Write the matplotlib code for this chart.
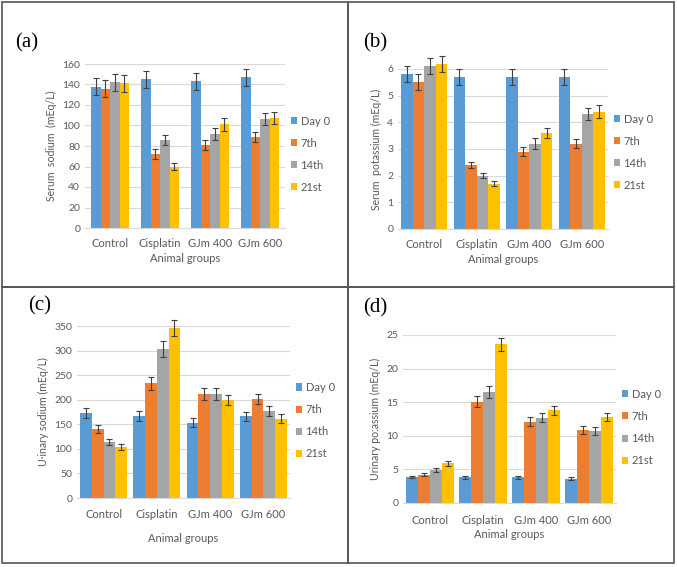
import matplotlib
matplotlib.use("Agg")
import matplotlib.pyplot as plt
from matplotlib.patches import Rectangle
import numpy as np

W, H = 677, 567

groups = ["Control", "Cisplatin", "GJm 400", "GJm 600"]
days = ["Day 0", "7th", "14th", "21st"]
colors = ["#5B9BD5", "#ED7D31", "#A5A5A5", "#FFC000"]

# rows = groups, columns = days
serum_na = [[138, 136, 142, 141], [145, 72, 86, 60], [143, 81, 92, 101], [147, 89, 106, 107]]
serum_na_err = [[8, 8, 8, 8], [8, 5, 5, 3], [8, 5, 6, 6], [8, 5, 6, 6]]

serum_k = [[5.8, 5.5, 6.1, 6.2], [5.7, 2.4, 2.0, 1.7], [5.7, 2.9, 3.2, 3.6], [5.7, 3.2, 4.3, 4.4]]
serum_k_err = [[0.3, 0.3, 0.3, 0.3], [0.3, 0.12, 0.1, 0.1], [0.3, 0.17, 0.2, 0.2], [0.3, 0.17, 0.22, 0.25]]

urine_na = [[173, 140, 114, 104], [167, 233, 303, 346], [153, 212, 212, 199], [166, 202, 177, 161]]
urine_na_err = [[10, 8, 6, 6], [10, 14, 16, 17], [9, 12, 12, 10], [10, 10, 10, 9]]

urine_k = [[3.8, 4.2, 4.9, 5.9], [3.8, 15.1, 16.5, 23.6], [3.8, 12.1, 12.7, 13.8], [3.6, 10.8, 10.7, 12.8]]
urine_k_err = [[0.15, 0.25, 0.35, 0.35], [0.25, 0.8, 0.9, 1.0], [0.25, 0.7, 0.7, 0.7], [0.25, 0.6, 0.55, 0.6]]

GREY = "#595959"
plt.rcParams["font.family"] = ["Lato", "DejaVu Sans"]


def px_axes(fig, x0, y0, x1, y1):
    return fig.add_axes([x0 / W, 1 - y1 / H, (x1 - x0) / W, (y1 - y0) / H])


def panel(fig, rect, vals, errs, ymax, ystep, ylabel, tag, tag_xy, bw, leg_y, xt_pad, xl_pad):
    ax = px_axes(fig, *rect)
    vals = np.array(vals)
    errs = np.array(errs)
    x = np.arange(len(groups))
    for j, d in enumerate(days):
        off = (j - 1.5) * bw
        ax.bar(x + off, vals[:, j], bw, color=colors[j], label=d, zorder=2, clip_on=False)
        ax.errorbar(x + off, vals[:, j], yerr=errs[:, j], fmt="none", ecolor="#404040",
                    elinewidth=0.8, capsize=2.2, capthick=0.8, zorder=3, clip_on=False)
    ax.set_xlim(-0.5, len(groups) - 0.5)
    ax.set_ylim(0, ymax)
    ax.set_yticks(np.arange(0, ymax + ystep / 2, ystep))
    ax.set_xticks(x)
    ax.set_xticklabels(groups)
    ax.grid(axis="y", color="#D9D9D9", linewidth=0.8, zorder=0)
    for s in ["top", "right", "left"]:
        ax.spines[s].set_visible(False)
    ax.spines["bottom"].set_color("#D9D9D9")
    ax.tick_params(axis="both", length=0, colors=GREY, labelsize=7.5)
    ax.tick_params(axis="x", labelsize=8, pad=xt_pad)
    ax.set_ylabel(ylabel, color=GREY, fontsize=7.6, labelpad=4)
    ax.set_xlabel("Animal groups", color=GREY, fontsize=8, labelpad=xl_pad)
    leg = ax.legend(loc="center left", bbox_to_anchor=(1.0, leg_y), frameon=False,
                    fontsize=8, handlelength=0.6, handleheight=0.6, handletextpad=0.3,
                    labelspacing=1.0, borderaxespad=0.1)
    for t in leg.get_texts():
        t.set_color(GREY)
    fig.text(tag_xy[0] / W, 1 - tag_xy[1] / H, tag, fontsize=15,
             family=["Liberation Serif", "DejaVu Serif"],
             ha="center", va="center", color="black")
    return ax


fig = plt.figure(figsize=(W / 100, H / 100), dpi=100)

# panel frames
frame = dict(fill=False, edgecolor="#555555", linewidth=1.2, transform=fig.transFigure)
for (x0, y0, x1, y1) in [(2, 2, 348, 287), (348, 2, 674, 287), (2, 287, 348, 563), (348, 287, 674, 563)]:
    fig.patches.append(Rectangle((x0 / W, 1 - y1 / H), (x1 - x0) / W, (y1 - y0) / H, **frame))

panel(fig, (85, 64, 285, 228), serum_na, serum_na_err, 160, 20, "Serum  sodium  (mEq/L)",
      "(a)", (27, 43), 0.19, 0.45, 7, 3)
panel(fig, (398, 69, 608, 229), serum_k, serum_k_err, 6, 1, "Serum  potassium (mEq/L)",
      "(b)", (375, 43), 0.22, 0.48, 7, 3)
panel(fig, (77, 326, 290, 498), urine_na, urine_na_err, 350, 50, "U·inary sodium (mEq/L)",
      "(c)", (40, 306), 0.22, 0.45, 8, 9)
panel(fig, (403, 335, 616, 503), urine_k, urine_k_err, 25, 5, "Urinary po:assium (mEq/L)",
      "(d)", (375, 308), 0.225, 0.45, 9, 2)

fig.savefig("out.png", dpi=100)
